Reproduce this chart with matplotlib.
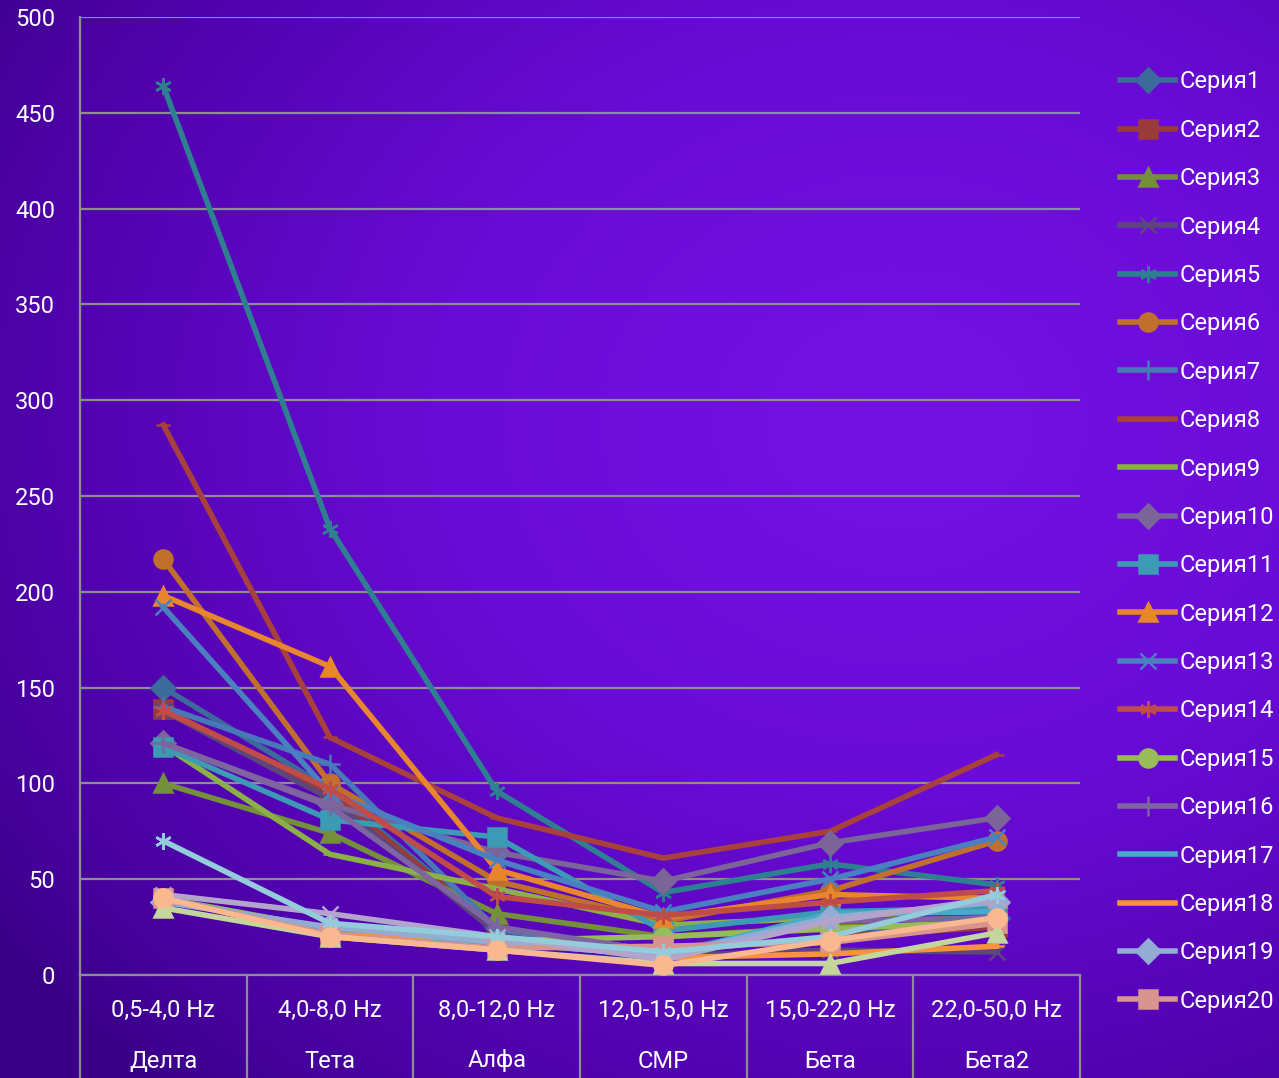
import numpy as np
import matplotlib
matplotlib.use("Agg")
import matplotlib.pyplot as plt
from matplotlib.colors import LinearSegmentedColormap

plt.rcParams['font.family'] = ['Roboto', 'DejaVu Sans']

# ---------------- data ----------------
bands = ["0,5-4,0 Hz", "4,0-8,0 Hz", "8,0-12,0 Hz", "12,0-15,0 Hz", "15,0-22,0 Hz", "22,0-50,0 Hz"]
names = ["Делта", "Тета", "Алфа", "СМР", "Бета", "Бета2"]

s1 = [150, 97, 25, 12, 20, 30]
s2 = [139, 95, 24, 12, 20, 25]
s3 = [100, 74, 32, 20, 25, 27]
s4 = [138, 92, 22, 10, 13, 12]
s5 = [464, 233, 96, 43, 58, 47]
s6 = [217, 100, 49, 28, 44, 70]
s7 = [140, 110, 24, 10, 30, 38]
s8 = [287, 124, 82, 61, 75, 115]
s9 = [120, 63, 45, 26, 30, 35]
s10 = [121, 89, 64, 49, 69, 82]
s11 = [119, 81, 72, 23, 33, 35]
s12 = [198, 161, 55, 30, 42, 40]
s13 = [192, 95, 60, 33, 50, 72]
s14 = [138, 97, 41, 31, 38, 44]
s15 = [40, 24, 18, 20, 24, 28]
s16 = [121, 88, 25, 12, 28, 30]
s17 = [40, 22, 17, 10, 32, 33]
s18 = [40, 21, 19, 9, 11, 15]
s19 = [38, 25, 17, 10, 30, 38]
s20 = [40, 21, 14, 15, 17, 27]
s21 = [35, 20, 13, 6, 6, 22]
s22 = [42, 32, 20, 8, 28, 40]
s23 = [70, 27, 20, 12, 20, 42]
s24 = [40, 20, 13, 5, 18, 30]

series = [s1, s2, s3, s4, s5, s6, s7, s8, s9, s10, s11, s12,
          s13, s14, s15, s16, s17, s18, s19, s20, s21, s22, s23, s24]
labels = ["Серия%d" % (i + 1) for i in range(len(series))]
n_legend = 20

colors = ['#3C6A9A', '#993B3B', '#74903A', '#5C477C', '#2E8090', '#C0702C',
          '#4878B8', '#A8403C', '#8CB048', '#7A6498', '#3C9AB4', '#E8862E',
          '#4A80C0', '#C04C48', '#98BC58', '#7E64A0', '#48ACC8', '#F8923E',
          '#94ACD4', '#D8948E', '#C4D69C', '#B4A4CC', '#94CCDC', '#FAB890']
ASTER = (6, 2, 0)
markers = ['D', 's', '^', 'x', ASTER, 'o', '+', '_', '_',
           'D', 's', '^', 'x', ASTER, 'o', '+', '_', '_',
           'D', 's', '^', 'x', ASTER, 'o']
msizes = {'D': 12, 's': 13, '^': 13, 'x': 12, 'o': 13, '+': 14, '_': 10}

W, H = 1279, 1078
fig = plt.figure(figsize=(W / 100, H / 100), dpi=100)

# background gradient
bg = fig.add_axes([0, 0, 1, 1], zorder=-10)
yy, xx = np.mgrid[0:H:2, 0:W:2]
d = np.sqrt(((xx - 900) / 1100.0) ** 2 + ((yy - 420) / 900.0) ** 2)
f = np.clip(1 - d, 0, 1) ** 0.8
cmap = LinearSegmentedColormap.from_list('bgc', ['#3A0088', '#5203B0', '#6A0CD8', '#7412E2'])
bg.imshow(f, cmap=cmap, aspect='auto', extent=[0, 1, 0, 1], origin='upper')
bg.axis('off')

L, R = 80 / W, 1080 / W
B, T = (H - 975) / H, (H - 17) / H
ax = fig.add_axes([L, B, R - L, T - B])
ax.patch.set_alpha(0)
ax.set_xlim(0, 6)
ax.set_ylim(0, 500)
ax.set_yticks(np.arange(0, 501, 50))
ax.yaxis.grid(True, color='#8E8E8E', lw=1.6)
ax.set_axisbelow(True)
for sp in ['top', 'right']:
    ax.spines[sp].set_visible(False)
ax.spines['left'].set_color('#8E8E8E')
ax.spines['left'].set_linewidth(1.6)
ax.spines['bottom'].set_color('#8E8E8E')
ax.spines['bottom'].set_linewidth(1.6)
ax.tick_params(axis='y', length=0, pad=18, labelsize=17, labelcolor='white')
ax.set_xticks([])

xpos = np.arange(len(bands)) + 0.5
for i, vals in enumerate(series):
    m = markers[i]
    key = m if isinstance(m, str) else 'x'
    ax.plot(xpos, vals, color=colors[i], lw=4.0, marker=m, ms=msizes[key],
            mec=colors[i], mfc=colors[i], mew=1.8, solid_joinstyle='miter',
            label=labels[i], zorder=3 + i * 0.01, clip_on=False)

# category table
for k in range(len(bands) + 1):
    ax.plot([k, k], [0, -0.2], transform=ax.get_xaxis_transform(), color='#8E8E8E',
            lw=1.6, clip_on=False)
for k in range(len(bands)):
    ax.text(k + 0.5, -35 / 958, bands[k], transform=ax.get_xaxis_transform(),
            ha='center', va='center', color='white', fontsize=17)
    ax.text(k + 0.5, -86 / 958, names[k], transform=ax.get_xaxis_transform(),
            ha='center', va='center', color='white', fontsize=17)

handles, labs = ax.get_legend_handles_labels()
leg = fig.legend(handles[:n_legend], labs[:n_legend], loc='upper left',
                 bbox_to_anchor=(1111 / W, 1 - 61 / H), frameon=False,
                 fontsize=17, labelcolor='white', handlelength=2.33,
                 handletextpad=0.17, labelspacing=1.075, borderaxespad=0)

fig.savefig('out.png', dpi=100)
